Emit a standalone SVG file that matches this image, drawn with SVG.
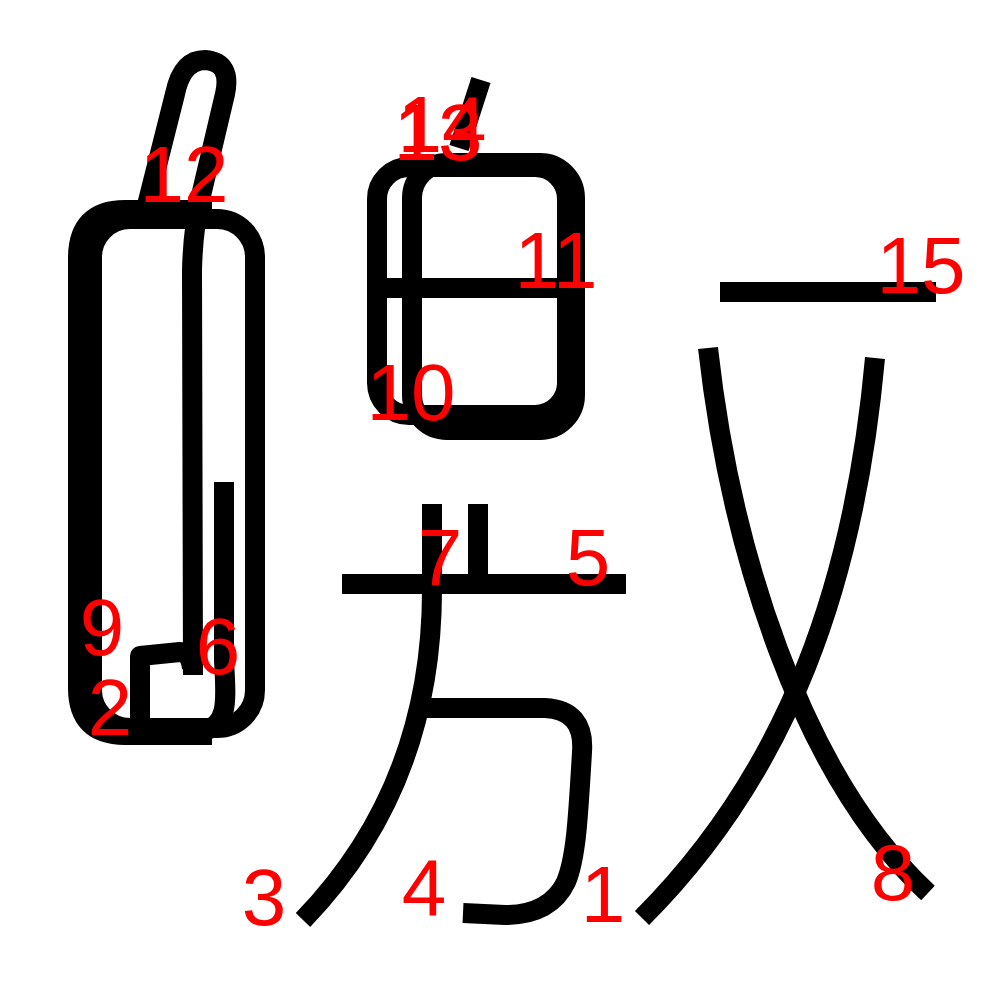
<svg xmlns="http://www.w3.org/2000/svg" width="1000" height="1000" viewBox="0 0 1000 1000">
<style>
.s{fill:none;stroke:#000;stroke-width:20;stroke-linecap:butt;stroke-linejoin:round}
.n{fill:#ff0000;font-family:"Liberation Sans",Arial,sans-serif;font-size:80px;text-anchor:middle}
</style>
<rect width="1000" height="1000" fill="#fff"/>
<g id="strokes">
<g id="stroke2"><path class="s" d="M212,210 L125,210 Q78,210 78,258 L78,688 Q78,735 125,735 L212,735"/></g>
<g id="stroke9"><rect class="s" x="92" y="219" width="163" height="509" rx="38"/></g>
<g id="stroke6"><path class="s" d="M224,482 L224,660 C226,700 230,726 200,732 L140,732"/></g>
<g id="stroke9b"><path class="s" d="M140,735 L140,656 L180,652 Q190,652 192,668"/></g>
<g id="stroke12"><path class="s" d="M147,205 L175,94 Q182,60 205,60 Q232,62 225,94 L200,200 Q193,230 192,270 L193,675"/></g>
<g id="stroke10"><rect class="s" x="377" y="167" width="190" height="248" rx="32"/></g>
<g id="stroke13"><rect class="s" x="412" y="163" width="163" height="267" rx="35"/></g>
<g id="stroke11"><path class="s" d="M377,288 L567,288"/></g>
<g id="stroke14"><path class="s" d="M481,80 L459,148"/></g>
<g id="stroke5"><path class="s" d="M342,584 L626,584"/></g>
<g id="stroke7"><path class="s" d="M478,504 L478,584"/></g>
<g id="stroke3"><path class="s" d="M432,504 L432,590 C432,720 390,830 303,920"/></g>
<g id="stroke4"><path class="s" d="M427,708 L545,708 Q585,710 582,752 C578,820 576,858 566,882 Q550,915 505,915 L463,913"/></g>
<g id="stroke15"><path class="s" d="M720,292 L936,292"/></g>
<g id="stroke8"><path class="s" d="M708,348 C730,545 800,775 928,893"/></g>
<g id="stroke1"><path class="s" d="M875,358 C855,580 790,770 642,918"/></g>
</g>
<g id="labels">
<text class="n" x="603" y="922">1</text>
<text class="n" x="110" y="735">2</text>
<text class="n" x="264" y="925">3</text>
<text class="n" x="424" y="915">4</text>
<text class="n" x="588" y="585">5</text>
<text class="n" x="218" y="674">6</text>
<text class="n" x="440" y="585">7</text>
<text class="n" x="893" y="900">8</text>
<text class="n" x="102" y="655">9</text>
<text class="n" x="411" y="420">10</text>
<text class="n" x="556" y="288">11</text>
<text class="n" x="184" y="202">12</text>
<text class="n" x="438" y="160">13</text>
<text class="n" x="442" y="152">14</text>
<text class="n" x="921" y="293">15</text>
</g>
</svg>
